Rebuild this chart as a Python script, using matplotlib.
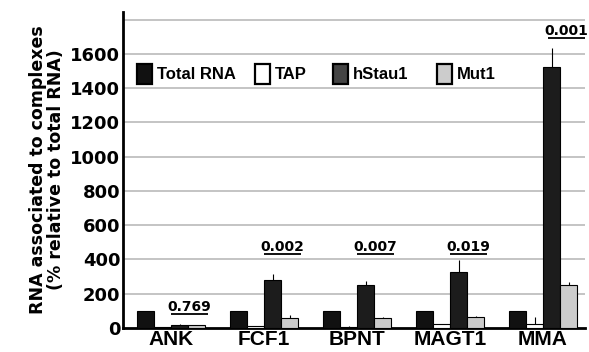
import numpy as np
import matplotlib.pyplot as plt

plt.rcParams['font.family'] = ['Liberation Sans', 'DejaVu Sans']
plt.rcParams['font.weight'] = 'bold'

# ---- data ----
genes = ['ANK', 'FCF1', 'BPNT', 'MAGT1', 'MMA']
series = ['Total RNA', 'TAP', 'hStau1', 'Mut1']
total_rna = [100, 100, 100, 100, 100]
tap = [3, 8, 5, 20, 20]
hstau1 = [18, 277, 250, 326, 1527]
mut1 = [15, 57, 58, 62, 250]
tap_err = [0, 3, 3, 3, 40]
hstau1_err = [3, 35, 25, 70, 111]
mut1_err = [2, 16, 3, 4, 20]
pvals = ['0.769', '0.002', '0.007', '0.019', '0.001']
p_height = [100, 450, 450, 450, 1712]
yticks = [0, 200, 400, 600, 800, 1000, 1200, 1400, 1600]

colors = ['#111111', 'white', '#1c1c1c', '#cccccc']
legend_colors = ['#111111', 'white', '#444444', '#cccccc']

fig = plt.figure(figsize=(5.89, 3.52), dpi=100)
ax = fig.add_axes([0.209, 0.069, 0.784, 0.897])

x = np.arange(len(genes))
w = 0.183
vals = [total_rna, tap, hstau1, mut1]
errs = [None, tap_err, hstau1_err, mut1_err]
for i in range(4):
    pos = x - 2 * w + (i + 0.5) * w
    if errs[i] is not None:
        yerr = [np.zeros(len(genes)), errs[i]]
    else:
        yerr = None
    ax.bar(pos, vals[i], w, color=colors[i], edgecolor='black', linewidth=0.8,
           yerr=yerr, error_kw=dict(ecolor='black', elinewidth=0.8, capsize=0), zorder=3)

# p-values, underlined
for i, p in enumerate(pvals):
    xc = x[i] + (0.25 if i == 4 else 0.2)
    ypos = p_height[i]
    ax.text(xc, ypos, p, ha='center', va='baseline', fontsize=10,
            fontweight='bold', family='DejaVu Sans', zorder=4)
    ax.plot([xc - 0.2, xc + 0.2], [ypos - 17, ypos - 17], color='black', lw=1.3,
            solid_capstyle='butt', zorder=4)

# legend drawn as boxes + text
leg_x = [-0.366, 0.903, 1.742, 2.86]
for i, name in enumerate(series):
    ax.add_patch(plt.Rectangle((leg_x[i], 1425), 0.165, 115, facecolor=legend_colors[i],
                               edgecolor='black', linewidth=1.6, zorder=4))
    ax.text(leg_x[i] + 0.215, 1478, name, ha='left', va='center', fontsize=12,
            fontweight='bold', zorder=4)

ax.set_xlim(-0.516, 4.45)
ax.set_ylim(0, 1846)
ax.set_yticks(yticks)
ax.set_yticklabels([str(t) for t in yticks], fontsize=13, fontweight='bold',
                   family='DejaVu Sans')
ax.set_xticks(x)
ax.set_xticklabels(genes, fontsize=15, fontweight='bold')
ax.tick_params(axis='y', length=0, pad=2)
ax.tick_params(axis='x', length=0, pad=2)
for yy in range(200, 1900, 200):
    ax.axhline(yy, color='#b4b4b4', lw=1.1, zorder=1)
ax.spines['top'].set_visible(False)
ax.spines['right'].set_visible(False)
ax.spines['left'].set_linewidth(2)
ax.spines['bottom'].set_linewidth(2)
ax.set_ylabel('RNA associated to complexes\n(% relative to total RNA)', fontsize=12.5,
              fontweight='bold', family='DejaVu Sans', linespacing=1.0, labelpad=4)

fig.savefig('out.png', dpi=100)
